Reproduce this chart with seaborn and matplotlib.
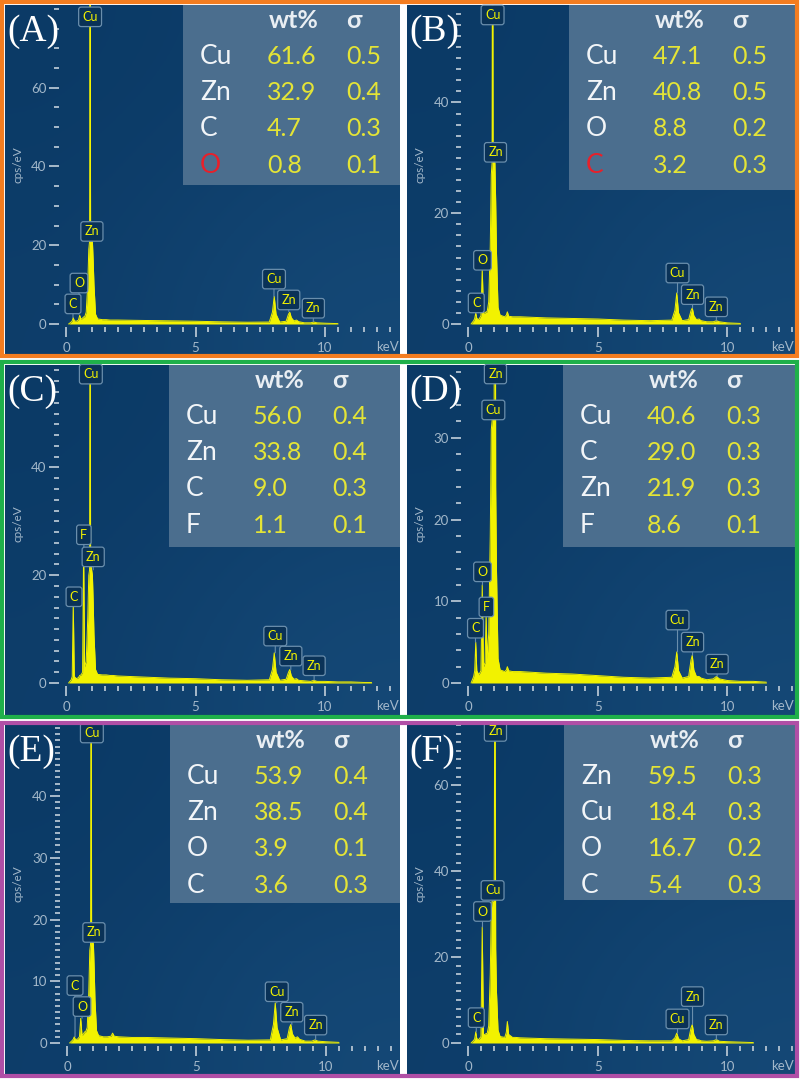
import numpy as np
import seaborn as sns
import matplotlib.pyplot as plt
from matplotlib.patches import Rectangle
from matplotlib.colors import LinearSegmentedColormap
from matplotlib.ticker import MultipleLocator, FixedLocator

nan = np.nan

# energy grid (keV), shared by the six spectra
kev = [0.10, 0.20, 0.24, 0.28, 0.32, 0.40, 0.48, 0.53, 0.58, 0.64,
       0.68, 0.72, 0.78, 0.84, 0.88, 0.91, 0.93, 0.95, 0.99, 1.02,
       1.05, 1.08, 1.14, 1.22, 1.40, 1.46, 1.50, 1.55, 1.70, 1.76,
       1.82, 2.0, 2.5, 3.0, 4.0, 5.0, 6.0, 7.0, 7.85, 7.97,
       8.04, 8.11, 8.25, 8.50, 8.59, 8.64, 8.70, 8.80, 8.90, 8.98,
       9.20, 9.45, 9.57, 9.69, 10.0, 10.5, 11.0, 11.5, 11.8]

# counts (cps/eV)
cps_a = [0, 0.5, 0.8, 1.6, 0.8, 0.7, 1.0, 2.2, 1.2, 1.5,
         1.8, 1.8, 3.0, 10, 19, 21, 100, 23, 22, 21,
         16, 10, 2.5, 1.3, 1.1, 1.1, 1.1, 1.1, 1.0, 1.0,
         1.0, 1.0, 0.95, 0.9, 0.8, 0.7, 0.55, 0.45, 0.5, 3.0,
         7.0, 2.5, 0.5, 0.7, 2.5, 3.0, 1.6, 0.8, 1.0, 0.6,
         0.3, 0.3, 0.5, 0.3, 0.2, 0.1, nan, nan, nan]
cps_b = [0, 0.6, 1.0, 2.0, 1.0, 0.8, 1.5, 10, 2.0, 2.0,
         2.2, 2.2, 4, 14, 27, 29, 100, 30, 30, 29,
         22, 13, 3, 1.6, 1.3, 1.6, 2.2, 1.4, 1.3, 1.3,
         1.3, 1.3, 1.2, 1.1, 1.0, 0.9, 0.7, 0.6, 0.7, 2.5,
         5.6, 2.0, 0.6, 0.8, 2.4, 2.9, 1.5, 0.8, 0.9, 0.6,
         0.4, 0.4, 0.6, 0.4, 0.2, 0.1, nan, nan, nan]
cps_c = [0, 0.6, 1.2, 15, 1.2, 0.8, 1.0, 1.4, 1.5, 2.0,
         25, 3.0, 4, 12, 20, 21, 100, 22, 21, 20,
         15, 9, 2.5, 1.6, 1.5, 1.5, 1.5, 1.5, 1.4, 1.4,
         1.4, 1.3, 1.2, 1.1, 0.9, 0.8, 0.6, 0.5, 0.6, 2.5,
         5.6, 2.0, 0.5, 0.7, 2.0, 2.5, 1.3, 0.7, 0.8, 0.5,
         0.4, 0.3, 0.5, 0.3, 0.3, 0.2, 0.2, 0.1, 0.1]
cps_d = [0, 0.8, 1.5, 5.0, 1.5, 1.0, 1.5, 12, 2.0, 2.5,
         8.5, 3.0, 6, 18, 31, 32, 33, 33, 34, 100,
         24, 14, 3, 1.6, 1.4, 1.6, 2.0, 1.5, 1.4, 1.4,
         1.4, 1.4, 1.3, 1.2, 1.1, 0.9, 0.7, 0.6, 0.7, 2.0,
         3.8, 1.5, 0.6, 0.8, 2.8, 3.4, 1.6, 0.8, 0.8, 0.6,
         0.4, 0.5, 0.8, 0.5, 0.3, 0.2, 0.2, 0.1, nan]
cps_e = [0, 0.4, 0.6, 1.0, 0.6, 0.6, 1.0, 4.0, 1.2, 1.5,
         1.8, 1.8, 2.5, 8, 15, 16, 100, 17, 16.5, 16,
         12, 7, 2, 1.2, 1.0, 1.0, 1.0, 1.0, 1.1, 1.6,
         1.1, 1.0, 0.9, 0.9, 0.8, 0.7, 0.55, 0.45, 0.5, 3.0,
         6.5, 2.5, 0.5, 0.7, 2.5, 3.0, 1.5, 0.8, 1.0, 0.6,
         0.3, 0.3, 0.5, 0.3, 0.2, 0.1, nan, nan, nan]
cps_f = [0, 0.6, 1.0, 2.6, 1.0, 0.8, 1.5, 27, 2.0, 2.0,
         2.2, 2.2, 4, 16, 31, 33, 33, 33, 34, 100,
         22, 12, 3, 1.5, 1.3, 2.5, 5.0, 2.0, 1.3, 1.3,
         1.3, 1.2, 1.1, 1.0, 0.9, 0.8, 0.6, 0.5, 0.5, 1.2,
         2.3, 1.0, 0.5, 0.8, 3.5, 4.3, 2.0, 0.8, 0.7, 0.5,
         0.4, 0.5, 0.8, 0.4, 0.3, 0.2, 0.1, nan, nan]

# quantification tables
el_a = ['Cu', 'Zn', 'C', 'O']
wt_a = [61.6, 32.9, 4.7, 0.8]
sd_a = [0.5, 0.4, 0.3, 0.1]
el_b = ['Cu', 'Zn', 'O', 'C']
wt_b = [47.1, 40.8, 8.8, 3.2]
sd_b = [0.5, 0.5, 0.2, 0.3]
el_c = ['Cu', 'Zn', 'C', 'F']
wt_c = [56.0, 33.8, 9.0, 1.1]
sd_c = [0.4, 0.4, 0.3, 0.1]
el_d = ['Cu', 'C', 'Zn', 'F']
wt_d = [40.6, 29.0, 21.9, 8.6]
sd_d = [0.3, 0.3, 0.3, 0.1]
el_e = ['Cu', 'Zn', 'O', 'C']
wt_e = [53.9, 38.5, 3.9, 3.6]
sd_e = [0.4, 0.4, 0.1, 0.3]
el_f = ['Zn', 'Cu', 'O', 'C']
wt_f = [59.5, 18.4, 16.7, 5.4]
sd_f = [0.3, 0.3, 0.2, 0.3]

# peak labels: name, keV, cps of the box, cps of the peak it points to
lab_a = (['Cu', 'Zn', 'O', 'C', 'Cu', 'Zn', 'Zn'],
         [0.93, 1.0, 0.5, 0.27, 8.03, 8.6, 9.55],
         [78, 23.5, 10.4, 5.1, 11.4, 6.1, 4.0],
         [None, 22, 2.5, 1.6, 7, 3.2, 0.6])
lab_b = (['Cu', 'Zn', 'O', 'C', 'Cu', 'Zn', 'Zn'],
         [0.93, 1.04, 0.54, 0.3, 8.07, 8.65, 9.57],
         [55.8, 31, 11.5, 3.8, 9.2, 5.3, 3.1],
         [None, 30, 10, 2, 5.6, 2.9, 0.6])
lab_c = (['Cu', 'F', 'Zn', 'C', 'Cu', 'Zn', 'Zn'],
         [0.96, 0.69, 1.05, 0.31, 8.08, 8.68, 9.58],
         [57.3, 27.5, 23.4, 16, 8.7, 5.0, 3.2],
         [None, 25, 21, 15, 5.6, 2.5, 0.5])
lab_d = (['Zn', 'Cu', 'O', 'F', 'C', 'Cu', 'Zn', 'Zn'],
         [1.04, 0.96, 0.54, 0.69, 0.27, 8.07, 8.65, 9.6],
         [37.8, 33.4, 13.6, 9.3, 6.7, 7.7, 5.0, 2.3],
         [None, 33, 12, 8.5, 5, 3.8, 3.4, 0.8])
lab_e = (['Cu', 'Zn', 'C', 'O', 'Cu', 'Zn', 'Zn'],
         [0.96, 1.04, 0.31, 0.58, 8.1, 8.68, 9.6],
         [50.2, 17.9, 9.3, 5.9, 8.3, 5.0, 2.9],
         [None, 16.5, 1.0, 4.0, 6.5, 3.0, 0.5])
lab_f = (['Zn', 'Cu', 'O', 'C', 'Cu', 'Zn', 'Zn'],
         [1.04, 0.93, 0.54, 0.3, 8.07, 8.65, 9.57],
         [72.5, 35.5, 30.6, 5.9, 5.6, 10.8, 4.2],
         [None, 33, 27, 2.6, 2.3, 4.3, 0.8])

TAB = '#4b6e8e'
YEL = '#f2f200'
VAL = '#e4e436'
TICK = '#b4c4d2'
LAB = '#a3b8ca'
bg_cmap = LinearSegmentedColormap.from_list('eds_bg', ['#0b3a66', '#164a78'])

sns.set_style('ticks')
plt.rcParams['font.family'] = ['Lato', 'DejaVu Sans']

W, H = 803, 1084
fig = plt.figure(figsize=(W / 100, H / 100), dpi=100)
fig.patch.set_facecolor('white')


def frect(x0, y0, x1, y1):
    return [x0 / W, 1 - y1 / H, (x1 - x0) / W, (y1 - y0) / H]


def fx(x):
    return x / W


def fy(y):
    return 1 - y / H


panels = [
    dict(tag='(A)', box=(5, 5, 400, 354), x0=66, y0=324, ymax=81, major=[0, 20, 40, 60], minor=5,
         cps=cps_a, el=el_a, wt=wt_a, sd=sd_a, red='O', table=(183, 5, 400, 185), labels=lab_a),
    dict(tag='(B)', box=(407, 5, 795, 354), x0=468.5, y0=324, ymax=57.6, major=[0, 20, 40], minor=2,
         cps=cps_b, el=el_b, wt=wt_b, sd=sd_b, red='C', table=(569, 5, 795, 190), labels=lab_b),
    dict(tag='(C)', box=(5, 365, 400, 715), x0=66, y0=683, ymax=59, major=[0, 20, 40], minor=2,
         cps=cps_c, el=el_c, wt=wt_c, sd=sd_c, red=None, table=(169, 365, 400, 547), labels=lab_c),
    dict(tag='(D)', box=(407, 365, 795, 715), x0=468.5, y0=683, ymax=38.9, major=[0, 10, 20, 30], minor=2,
         cps=cps_d, el=el_d, wt=wt_d, sd=sd_d, red=None, table=(563, 365, 795, 547), labels=lab_d),
    dict(tag='(E)', box=(5, 725, 400, 1074), x0=67, y0=1043, ymax=51.5, major=[0, 10, 20, 30, 40], minor=1,
         cps=cps_e, el=el_e, wt=wt_e, sd=sd_e, red=None, table=(170, 725, 400, 903), labels=lab_e),
    dict(tag='(F)', box=(407, 725, 795, 1074), x0=468.5, y0=1043, ymax=74, major=[0, 20, 40, 60], minor=2,
         cps=cps_f, el=el_f, wt=wt_f, sd=sd_f, red=None, table=(564, 725, 795, 900), labels=lab_f),
]

SX = 25.9  # px per keV

for p in panels:
    l, t, r, b = p['box']
    bg = fig.add_axes(frect(l, t, r, b))
    # soft shading of the detector-software background
    bg.imshow([[0.0, 0.25], [0.2, 0.9]], cmap=bg_cmap, vmin=0, vmax=1, interpolation='bicubic',
              extent=(0, 1, 0, 1), aspect='auto')
    bg.set_xlim(0, 1)
    bg.set_ylim(0, 1)
    bg.set_xticks([])
    bg.set_yticks([])
    for s in bg.spines.values():
        s.set_visible(False)

    x0, y0 = p['x0'], p['y0']
    sy = (y0 - t) / p['ymax']
    axl = x0 - 7
    ax = fig.add_axes(frect(axl, t, r, y0 + 3))
    ax.set_facecolor('none')
    ax.set_xlim((axl - x0) / SX, (r - x0) / SX)
    ax.set_ylim(-3 / sy, p['ymax'])

    ax.fill_between(kev, p['cps'], color=YEL, lw=0)
    sns.lineplot(x=kev, y=p['cps'], ax=ax, color=YEL, lw=0.7, estimator=None, sort=False)

    ax.xaxis.set_major_locator(FixedLocator([0, 5, 10]))
    ax.xaxis.set_minor_locator(MultipleLocator(0.5))
    ax.yaxis.set_major_locator(FixedLocator(p['major']))
    ax.yaxis.set_minor_locator(MultipleLocator(p['minor']))
    ax.tick_params(which='both', bottom=True, left=True, top=False, right=False, color=TICK, width=1.3)
    ax.tick_params(which='major', length=7, labelcolor=LAB, labelsize=9.5)
    ax.tick_params(which='minor', length=3.5)
    ax.tick_params(axis='x', pad=3.5)
    ax.tick_params(axis='y', pad=2)
    for s in ax.spines.values():
        s.set_visible(False)
    ax.set_xlabel('')
    ax.set_ylabel('')

    # peak labels
    names, lx, ly, tip = p['labels']
    for n, x, y, ty in zip(names, lx, ly, tip):
        box = dict(boxstyle='round,pad=0.3,rounding_size=0.2', fc='#0a3257', ec='#6a8eac', lw=0.9)
        if ty is None:
            ax.text(x, y, n, ha='center', va='center', fontsize=9, color=YEL, bbox=box, zorder=5)
        else:
            ax.annotate(n, xy=(x, ty), xytext=(x, y), ha='center', va='center', fontsize=9,
                        color=YEL, bbox=box, zorder=5,
                        arrowprops=dict(arrowstyle='-', color='#6a8eac', lw=0.8, shrinkA=0, shrinkB=0))

    fig.text(fx(l + 13), fy((t + y0) / 2), 'cps/eV', rotation=90, ha='center', va='center',
             fontsize=8.5, color=LAB)
    fig.text(fx(r - 12), fy(y0 + 23), 'keV', ha='center', va='center', fontsize=9.5, color=LAB)
    fig.text(fx(l + 2), fy(t + 27), p['tag'], ha='left', va='center', fontsize=27,
             family='Liberation Serif', color='white', zorder=6)

    # quantification table
    tl, tt, tr, tb = p['table']
    fig.add_artist(Rectangle((fx(tl), fy(tb)), (tr - tl) / W, (tb - tt) / H,
                             transform=fig.transFigure, fc=TAB, ec='none', zorder=2.5))
    fig.text(fx(tl + 111), fy(tt + 15), 'wt%', ha='center', va='center', fontsize=18,
             weight='bold', color='#e9eef3')
    fig.text(fx(tl + 171), fy(tt + 15), 'σ', ha='center', va='center', fontsize=18,
             weight='bold', color='#e9eef3')
    for i, (e, w, s) in enumerate(zip(p['el'], p['wt'], p['sd'])):
        y = tt + 51 + 36.5 * i
        fig.text(fx(tl + 17), fy(y), e, ha='left', va='center', fontsize=19,
                 color='#e8202a' if e == p['red'] else '#f2f5f8')
        fig.text(fx(tl + 84), fy(y), f'{w:.1f}', ha='left', va='center', fontsize=18, color=VAL)
        fig.text(fx(tl + 163), fy(y), f'{s:.1f}', ha='left', va='center', fontsize=18, color=VAL)

# coloured frames around each row
for t, b, col in [(2, 356, '#f47d20'), (362, 717, '#1fb04a'), (723, 1076, '#b04fa6')]:
    fig.add_artist(Rectangle((fx(2), fy(b)), (797 - 2) / W, (b - t) / H, transform=fig.transFigure,
                             fill=False, ec=col, lw=3, zorder=10))

fig.savefig('out.png', dpi=100)
